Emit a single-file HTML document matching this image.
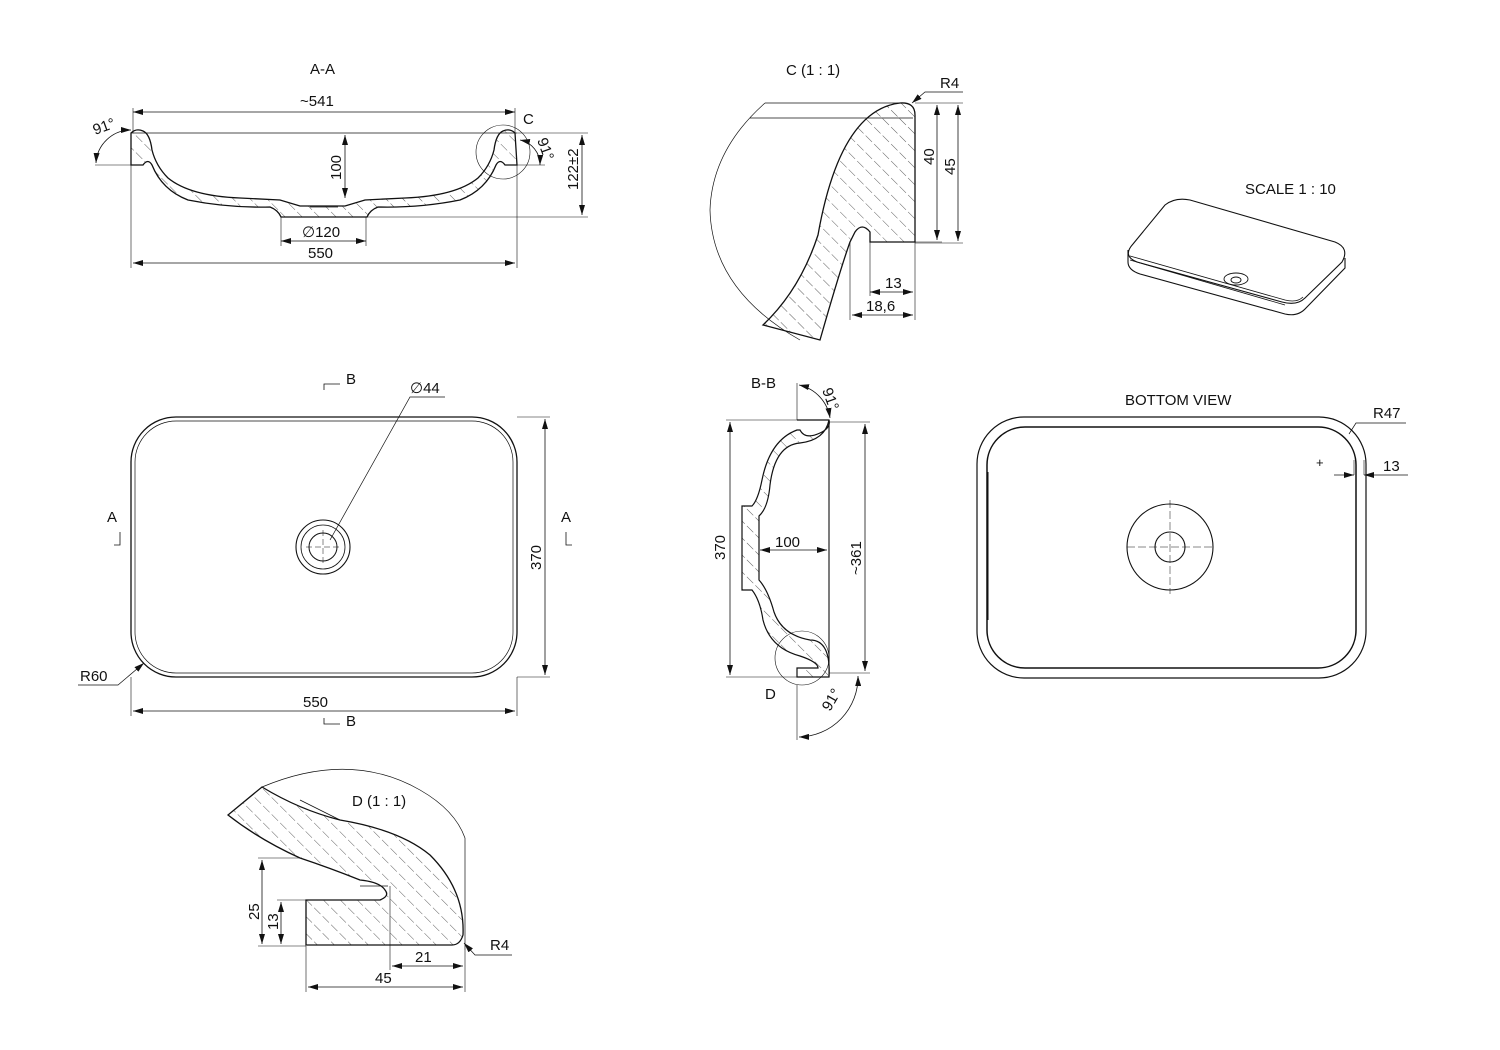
<!DOCTYPE html>
<html><head><meta charset="utf-8"><style>
html,body{margin:0;padding:0;background:#fff}
svg{display:block}
text{font-family:"Liberation Sans",sans-serif;font-size:15px;fill:#111}
</style></head><body>
<svg width="1500" height="1050" viewBox="0 0 1500 1050" xmlns="http://www.w3.org/2000/svg">
<defs>
<pattern id="h" width="12" height="12" patternUnits="userSpaceOnUse" patternTransform="rotate(-45)">
<line x1="0" y1="0" x2="0" y2="12" stroke="#333" stroke-width="0.8" stroke-dasharray="9,3"/>
</pattern>
<marker id="a" markerWidth="10" markerHeight="6" refX="10" refY="3" orient="auto-start-reverse" markerUnits="userSpaceOnUse"><path d="M0,0 L10,3 L0,6z" fill="#111"/></marker>
</defs>
<g fill="none" stroke="#111" stroke-width="1">

<!-- ===== A-A ===== -->
<text x="310" y="74" stroke="none">A-A</text>
<line x1="131" y1="133" x2="517" y2="133" stroke-width="0.8"/>
<path d="M131,133 Q136,128 143,131 Q150,134 152,150 Q156,166 168,178 Q190,196 240,198 L280,200 L300,206 L345,206 L365,200 L405,198 Q456,196 478,178 Q490,166 494,150 Q496,134 503,131 Q510,128 515,133 L517,165 L505,165 Q500,158 496,165 Q486,190 460,200 Q420,208 378,207 Q370,210 367,217 L281,217 Q278,210 270,207 Q228,208 188,200 Q162,190 152,165 Q148,158 143,165 L131,165 Z" fill="url(#h)" stroke-width="1.3"/>
<line x1="310" y1="207" x2="338" y2="207" stroke-width="0.8"/>
<circle cx="503" cy="152" r="27" stroke-width="0.6"/>
<text x="523" y="124" stroke="none">C</text>
<line x1="133" y1="112" x2="515" y2="112" marker-start="url(#a)" marker-end="url(#a)" stroke-width="0.8"/>
<line x1="133" y1="108" x2="133" y2="133" stroke-width="0.6"/><line x1="515" y1="108" x2="515" y2="133" stroke-width="0.6"/>
<text x="300" y="106" stroke="none">~541</text>
<line x1="131" y1="165" x2="131" y2="268" stroke-width="0.6"/><line x1="517" y1="165" x2="517" y2="268" stroke-width="0.6"/>
<line x1="133" y1="263" x2="515" y2="263" marker-start="url(#a)" marker-end="url(#a)" stroke-width="0.8"/>
<text x="308" y="258" stroke="none">550</text>
<line x1="281" y1="217" x2="281" y2="246" stroke-width="0.6"/><line x1="366" y1="217" x2="366" y2="246" stroke-width="0.6"/>
<line x1="281" y1="241" x2="366" y2="241" marker-start="url(#a)" marker-end="url(#a)" stroke-width="0.8"/>
<text x="302" y="237" stroke="none">∅120</text>
<line x1="345" y1="135" x2="345" y2="198" marker-start="url(#a)" marker-end="url(#a)" stroke-width="0.8"/>
<text transform="translate(341,180) rotate(-90)" stroke="none">100</text>
<line x1="517" y1="133" x2="588" y2="133" stroke-width="0.6"/><line x1="367" y1="217" x2="588" y2="217" stroke-width="0.6"/>
<line x1="582" y1="135" x2="582" y2="215" marker-start="url(#a)" marker-end="url(#a)" stroke-width="0.8"/>
<text transform="translate(578,190) rotate(-90)" stroke="none">122±2</text>
<line x1="95" y1="165" x2="131" y2="165" stroke-width="0.6"/><line x1="517" y1="165" x2="545" y2="165" stroke-width="0.6"/>
<path d="M131,130 A35,35 0 0 0 96,163" marker-start="url(#a)" marker-end="url(#a)" stroke-width="0.8"/>
<path d="M520,140 A25,25 0 0 1 540,165" marker-start="url(#a)" marker-end="url(#a)" stroke-width="0.8"/>
<text transform="translate(95,135) rotate(-20)" stroke="none">91°</text>
<text transform="translate(537,140) rotate(70)" stroke="none">91°</text>

<!-- ===== C detail ===== -->
<text x="786" y="75" stroke="none">C  (1 : 1)</text>
<path d="M765,103 Q712,150 710,210 Q712,290 800,340" stroke-width="0.7"/>
<line x1="765" y1="103" x2="900" y2="103" stroke-width="0.7"/>
<line x1="750" y1="118" x2="913" y2="118" stroke-width="0.7"/>
<path d="M763,325 Q800,290 818,235 Q840,110 900,103 Q915,102 915,115 L915,242 L870,242 L870,232 Q862,222 855,232 L850,242 Q840,270 820,340 Z" fill="url(#h)" stroke-width="1.3"/>
<line x1="915" y1="243" x2="963" y2="243" stroke-width="0.6"/>
<line x1="870" y1="242" x2="942" y2="242" stroke-width="0.6"/>
<line x1="915" y1="103" x2="963" y2="103" stroke-width="0.6"/>
<line x1="937" y1="105" x2="937" y2="240" marker-start="url(#a)" marker-end="url(#a)" stroke-width="0.8"/>
<line x1="958" y1="105" x2="958" y2="241" marker-start="url(#a)" marker-end="url(#a)" stroke-width="0.8"/>
<text transform="translate(934,165) rotate(-90)" stroke="none">40</text>
<text transform="translate(955,175) rotate(-90)" stroke="none">45</text>
<path d="M963,92 L925,92 L912,103" stroke-width="0.7" marker-end="url(#a)"/>
<text x="940" y="88" stroke="none">R4</text>
<line x1="870" y1="242" x2="870" y2="296" stroke-width="0.6"/><line x1="850" y1="242" x2="850" y2="320" stroke-width="0.6"/><line x1="915" y1="242" x2="915" y2="320" stroke-width="0.6"/>
<line x1="870" y1="292" x2="913" y2="292" marker-start="url(#a)" marker-end="url(#a)" stroke-width="0.8"/>
<line x1="852" y1="315" x2="913" y2="315" marker-start="url(#a)" marker-end="url(#a)" stroke-width="0.8"/>
<text x="885" y="288" stroke="none">13</text>
<text x="866" y="311" stroke="none">18,6</text>

<!-- ===== 3D view ===== -->
<text x="1245" y="194" stroke="none">SCALE 1 : 10</text>
<path d="M1165,205 Q1175,197 1190,200 L1335,242 Q1350,248 1342,262 L1305,298 Q1297,306 1282,302 L1137,262 Q1122,256 1133,244 Z" stroke-width="1.1"/>
<path d="M1128,250 L1128,262 Q1128,270 1140,274 L1285,314 Q1298,317 1306,308 L1345,268 L1345,258" stroke-width="1.1"/>
<path d="M1130,256 L1285,300 Q1297,303 1303,297" stroke-width="0.8"/>
<path d="M1130,260 L1285,305" stroke-width="0.8"/>
<ellipse cx="1236" cy="279" rx="12" ry="6" stroke-width="0.9"/>
<ellipse cx="1236" cy="280" rx="5" ry="3" stroke-width="0.9"/>

<!-- ===== Top view ===== -->
<rect x="131" y="417" width="386" height="260" rx="45" stroke-width="1.3"/>
<rect x="135" y="421" width="378" height="252" rx="41" stroke-width="0.7"/>
<circle cx="323" cy="547" r="27" stroke-width="1.1"/>
<circle cx="323" cy="547" r="22" stroke-width="0.8"/>
<circle cx="323" cy="547" r="14" stroke-width="1"/>
<line x1="323" y1="530" x2="323" y2="564" stroke-width="0.5" stroke-dasharray="6,3"/>
<line x1="306" y1="547" x2="340" y2="547" stroke-width="0.5" stroke-dasharray="6,3"/>
<path d="M445,397 L410,397 L330,540" stroke-width="0.7"/>
<text x="410" y="393" stroke="none">∅44</text>
<line x1="517" y1="417" x2="550" y2="417" stroke-width="0.6"/><line x1="517" y1="677" x2="550" y2="677" stroke-width="0.6"/>
<line x1="545" y1="419" x2="545" y2="675" marker-start="url(#a)" marker-end="url(#a)" stroke-width="0.8"/>
<text transform="translate(541,570) rotate(-90)" stroke="none">370</text>
<line x1="131" y1="677" x2="131" y2="716" stroke-width="0.6"/><line x1="517" y1="677" x2="517" y2="716" stroke-width="0.6"/>
<line x1="133" y1="711" x2="515" y2="711" marker-start="url(#a)" marker-end="url(#a)" stroke-width="0.8"/>
<text x="303" y="707" stroke="none">550</text>
<path d="M78,685 L118,685 L144,663" stroke-width="0.7" marker-end="url(#a)"/>
<text x="80" y="681" stroke="none">R60</text>
<path d="M324,390 L324,384 L340,384" stroke-width="0.8"/><text x="346" y="384" stroke="none">B</text>
<path d="M324,718 L324,724 L340,724" stroke-width="0.8"/><text x="346" y="726" stroke="none">B</text>
<path d="M120,532 L120,545 L114,545" stroke-width="0.8"/><text x="107" y="522" stroke="none">A</text>
<path d="M566,532 L566,545 L572,545" stroke-width="0.8"/><text x="561" y="522" stroke="none">A</text>

<!-- ===== B-B ===== -->
<text x="751" y="388" stroke="none">B-B</text>
<line x1="829" y1="420" x2="829" y2="677" stroke-width="1.1"/>
<path d="M797,420 L829,420 Q831,428 820,433 Q805,440 800,430 L797,430 Q770,440 762,480 Q758,500 752,506 L742,506 L742,590 L752,590 Q760,600 763,620 Q770,648 800,656 Q818,662 818,668 L797,668 L797,677 L829,677 Q831,640 810,640 Q782,635 774,612 Q768,590 759,580 L759,516 Q768,508 770,485 Q775,445 800,443 Q825,440 829,420" fill="url(#h)" stroke-width="1.2"/>
<line x1="797" y1="410" x2="797" y2="420" stroke-width="0.6"/>
<circle cx="802" cy="658" r="27" stroke-width="0.6"/>
<text x="765" y="699" stroke="none">D</text>
<line x1="726" y1="420" x2="797" y2="420" stroke-width="0.6"/><line x1="726" y1="677" x2="797" y2="677" stroke-width="0.6"/>
<line x1="730" y1="422" x2="730" y2="675" marker-start="url(#a)" marker-end="url(#a)" stroke-width="0.8"/>
<text transform="translate(725,560) rotate(-90)" stroke="none">370</text>
<line x1="829" y1="422" x2="870" y2="422" stroke-width="0.6"/><line x1="829" y1="673" x2="870" y2="673" stroke-width="0.6"/>
<line x1="865" y1="424" x2="865" y2="671" marker-start="url(#a)" marker-end="url(#a)" stroke-width="0.8"/>
<text transform="translate(861,575) rotate(-90)" stroke="none">~361</text>
<line x1="760" y1="550" x2="827" y2="550" marker-start="url(#a)" marker-end="url(#a)" stroke-width="0.8"/>
<text x="775" y="547" stroke="none">100</text>
<line x1="797" y1="383" x2="797" y2="410" stroke-width="0.6"/>
<path d="M799,385 A40,40 0 0 1 830,418" marker-start="url(#a)" marker-end="url(#a)" stroke-width="0.8"/>
<text transform="translate(822,390) rotate(70)" stroke="none">91°</text>
<line x1="797" y1="685" x2="797" y2="740" stroke-width="0.6"/>
<path d="M858,676 A60,60 0 0 1 799,737" marker-start="url(#a)" marker-end="url(#a)" stroke-width="0.8"/>
<text transform="translate(830,712) rotate(-60)" stroke="none">91°</text>

<!-- ===== Bottom view ===== -->
<text x="1125" y="405" stroke="none">BOTTOM VIEW</text>
<rect x="977" y="417" width="389" height="261" rx="47" stroke-width="1.2"/>
<rect x="987" y="427" width="369" height="241" rx="38" stroke-width="1.5"/>
<line x1="988" y1="472" x2="988" y2="620" stroke-width="1"/>
<circle cx="1170" cy="547" r="43" stroke-width="1.1"/>
<circle cx="1170" cy="547" r="15" stroke-width="1.1"/>
<line x1="1170" y1="500" x2="1170" y2="594" stroke-width="0.5" stroke-dasharray="8,3"/>
<line x1="1127" y1="547" x2="1214" y2="547" stroke-width="0.5" stroke-dasharray="8,3"/>
<path d="M1406,423 L1356,423 L1349,434" stroke-width="0.7"/>
<text x="1373" y="418" stroke="none">R47</text>
<text x="1316" y="467" stroke="none" style="font-size:13px">+</text>
<line x1="1354" y1="460" x2="1354" y2="475" stroke-width="0.6"/><line x1="1364" y1="460" x2="1364" y2="475" stroke-width="0.6"/>
<line x1="1334" y1="475" x2="1354" y2="475" marker-end="url(#a)" stroke-width="0.8"/>
<line x1="1408" y1="475" x2="1364" y2="475" marker-end="url(#a)" stroke-width="0.8"/>
<text x="1383" y="471" stroke="none">13</text>

<!-- ===== D detail ===== -->
<path d="M262,787 Q350,750 420,790 Q455,810 465,838" stroke-width="0.7"/>
<line x1="465" y1="838" x2="465" y2="950" stroke-width="0.7"/>
<text x="352" y="806" stroke="none">D  (1 : 1)</text>
<path d="M228,815 L262,787 Q300,810 340,820 Q400,830 430,855 Q465,890 463,935 Q460,945 452,945 L306,945 L306,900 L380,900 Q390,896 385,890 Q380,882 360,880 Q330,868 300,858 Q260,840 228,815 Z" fill="url(#h)" stroke-width="1.3"/>
<line x1="300" y1="800" x2="340" y2="820" stroke-width="0.8"/>
<line x1="360" y1="886" x2="388" y2="886" stroke-width="0.7"/>
<line x1="258" y1="858" x2="302" y2="858" stroke-width="0.6"/><line x1="258" y1="946" x2="306" y2="946" stroke-width="0.6"/><line x1="277" y1="900" x2="306" y2="900" stroke-width="0.6"/>
<line x1="262" y1="860" x2="262" y2="944" marker-start="url(#a)" marker-end="url(#a)" stroke-width="0.8"/>
<line x1="281" y1="902" x2="281" y2="944" marker-start="url(#a)" marker-end="url(#a)" stroke-width="0.8"/>
<text transform="translate(259,920) rotate(-90)" stroke="none">25</text>
<text transform="translate(278,930) rotate(-90)" stroke="none">13</text>
<line x1="390" y1="886" x2="390" y2="970" stroke-width="0.6"/><line x1="306" y1="946" x2="306" y2="992" stroke-width="0.6"/><line x1="465" y1="950" x2="465" y2="992" stroke-width="0.6"/>
<line x1="392" y1="966" x2="463" y2="966" marker-start="url(#a)" marker-end="url(#a)" stroke-width="0.8"/>
<line x1="308" y1="987" x2="463" y2="987" marker-start="url(#a)" marker-end="url(#a)" stroke-width="0.8"/>
<text x="415" y="962" stroke="none">21</text>
<text x="375" y="983" stroke="none">45</text>
<path d="M512,955 L475,955 L464,943" stroke-width="0.7" marker-end="url(#a)"/>
<text x="490" y="950" stroke="none">R4</text>
</g>
</svg>
</body></html>
